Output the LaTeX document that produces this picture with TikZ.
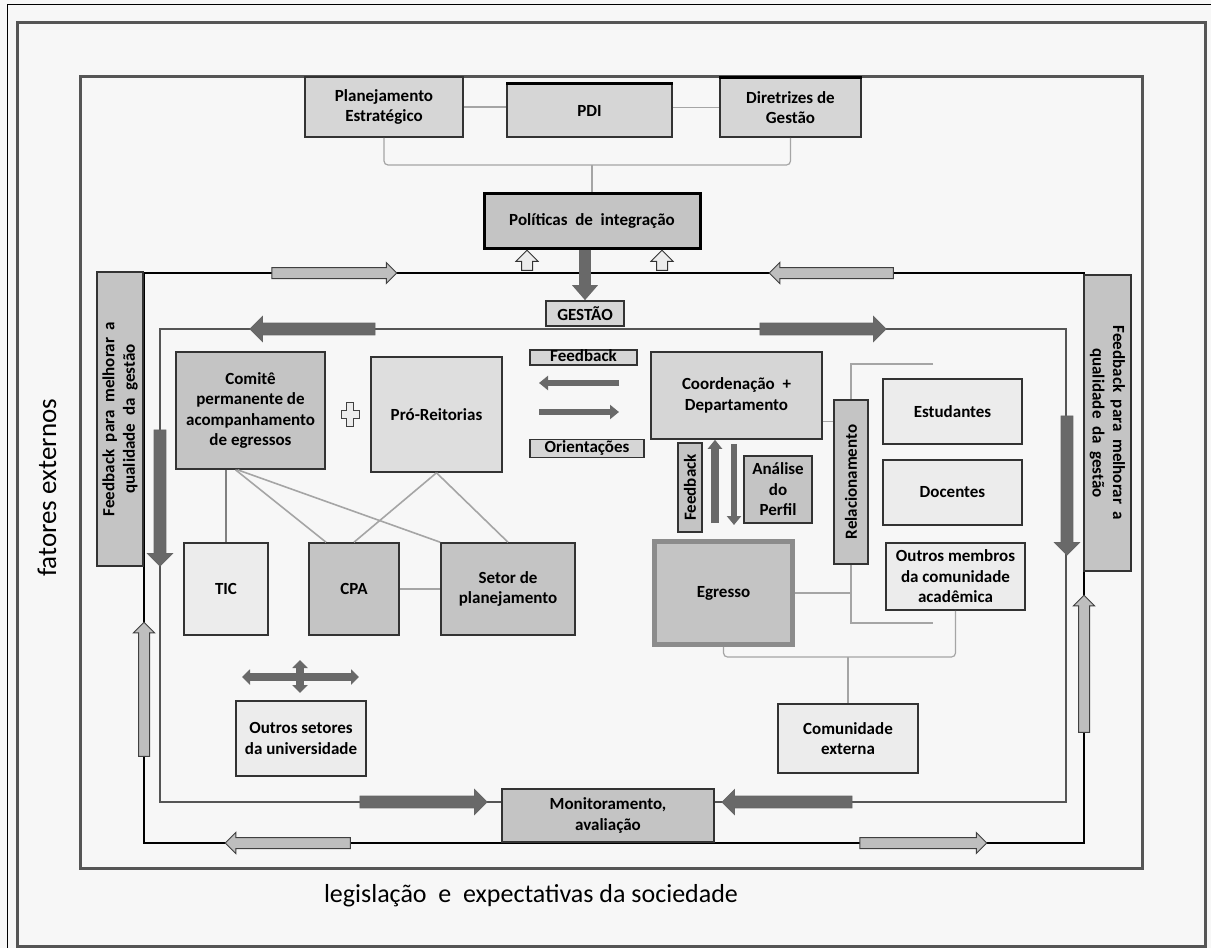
\documentclass[tikz,border=0pt]{standalone}
\usepackage{fontspec}
\setmainfont{Carlito}
\usetikzlibrary{arrows.meta,positioning,shapes.arrows}
\definecolor{bgpaper}{RGB}{247,247,247}
\definecolor{boxdark}{RGB}{196,196,196}
\definecolor{boxmid}{RGB}{214,214,214}
\definecolor{boxlight}{RGB}{236,236,236}
\definecolor{framegray}{RGB}{85,85,85}
\definecolor{linkgray}{RGB}{165,165,165}
\definecolor{arrdark}{RGB}{105,105,105}
\definecolor{arrlight}{RGB}{190,190,190}

\begin{document}
\begin{tikzpicture}[x=1pt, y=-1pt,
    box/.style={draw=black!80, line width=1.6pt, align=center, inner sep=2pt, font=\bfseries\fontsize{17}{20.5}\selectfont},
    dbox/.style={box, fill=boxdark},
    mbox/.style={box, fill=boxmid},
    lbox/.style={box, fill=boxlight},
    frame/.style={draw=framegray, line width=3pt},
    outerloop/.style={draw=black, line width=2.5pt},
    innerloop/.style={draw=framegray, line width=2pt},
    link/.style={draw=linkgray, line width=1.6pt},
    hollowarr/.style={single arrow, draw=black!75, fill=arrlight, line width=1pt, inner xsep=0pt, inner ysep=5pt, single arrow head extend=5pt, minimum height=#1},
    darkarr/.style={single arrow, draw=black!60, fill=arrdark, line width=0.8pt, inner xsep=0pt, inner ysep=5.5pt, single arrow head extend=6.5pt, minimum height=#1},
    smallarr/.style={single arrow, draw=black!80, fill=boxlight, line width=1pt, inner xsep=0pt, inner ysep=5pt, single arrow head extend=5.5pt, minimum height=20pt},
    gesarr/.style={-{Triangle[length=15pt,width=25pt]}, line width=12pt, draw=arrdark},
    midarr/.style={-{Triangle[length=9pt,width=14pt]}, line width=6.5pt, draw=arrdark},
    crossarr/.style={{Triangle[length=8pt,width=15pt]}-{Triangle[length=8pt,width=15pt]}, line width=8pt, draw=arrdark}
  ]
    \fill[bgpaper] (0,0) rectangle (1211,948);
    \useasboundingbox (0,0) rectangle (1211,948);
    \draw[black, line width=1pt] (7,948) -- (7,4) -- (1211,4);
    \draw[frame] (17,22) rectangle (1205,946);
    \draw[frame] (80,76) rectangle (1142,868);
    \draw[outerloop] (144,273) rectangle (1084,843);
    \draw[innerloop] (160,329) rectangle (1066,802);

    \node[rotate=90, font=\fontsize{27}{32}\selectfont] (fat) at (47,488) {fatores externos};
    \node[font=\fontsize{26}{31}\selectfont] (leg) at (531,896) {legislação~~e~~expectativas da sociedade};

    \node[mbox, minimum width=158pt, minimum height=60pt] (plan) at (384,107) {Planejamento\\Estratégico};
    \node[mbox, minimum width=165pt, minimum height=53pt] (pdi) at (589.5,110.5) {PDI};
    \node[mbox, minimum width=141pt, minimum height=59pt] (dir) at (790.5,107.5) {Diretrizes de\\Gestão};
    \draw[line width=3pt] (pdi.north west) -- (pdi.north east);
    \draw[line width=3pt] (dir.north west) -- (dir.north east);
    \node[dbox, draw=black, line width=3pt, minimum width=216pt, minimum height=55pt] (pol) at (592,220.5) {Políticas~~de~~integração};
    \node[mbox, minimum width=78pt, minimum height=25pt, inner sep=0pt] (gest) at (585,313.5) {GESTÃO};

    \node[mbox, line width=1.2pt, minimum width=107pt, inner ysep=1pt, text height=10pt, text depth=3pt] (fbl) at (583.5,357.5) {Feedback};
    \node[mbox, line width=1.2pt, minimum width=114pt, inner ysep=1pt, text height=12pt, text depth=4pt] (ori) at (587,448.5) {Orientações};

    \node[dbox, minimum width=149pt, minimum height=117pt] (comite) at (250.5,410.5) {Comitê\\permanente de\\acompanhamento\\de egressos};
    \draw[shift={(350,414)}, draw=black!75, fill=boxlight, line width=1pt] (-3.5,-12) -- (3.5,-12) -- (3.5,-4) -- (9,-4) -- (9,4) -- (3.5,4) -- (3.5,12) -- (-3.5,12) -- (-3.5,4) -- (-9,4) -- (-9,-4) -- (-3.5,-4) -- cycle;
    \node[mbox, fill=boxmid!80!white, minimum width=131pt, minimum height=115pt] (pro) at (436.5,414.5) {Pró-Reitorias};
    \node[lbox, minimum width=84pt, minimum height=92pt] (tic) at (226,589) {TIC};
    \node[dbox, minimum width=90pt, minimum height=92pt] (cpa) at (354,589) {CPA};
    \node[dbox, minimum width=134pt, minimum height=92pt] (setor) at (508,589) {Setor de\\planejamento};
    \node[lbox, minimum width=130pt, minimum height=75pt] (outset) at (301,738.5) {Outros setores\\da universidade};

    \node[mbox, minimum width=171pt, minimum height=87pt] (coord) at (736.5,395.5) {Coordenação~~+\\Departamento};
    \node[dbox, rotate=90, minimum width=89pt, minimum height=24pt, inner sep=0pt] (fbv) at (690,487.5) {Feedback};
    \node[dbox, minimum width=68pt, minimum height=67pt, inner sep=1pt] (ana) at (778,489.5) {Análise\\do\\Perfil};
    \node[dbox, draw=black!45, line width=5pt, minimum width=138pt, minimum height=103pt] (egr) at (723.5,593) {Egresso};
    \node[dbox, rotate=90, minimum width=164pt, minimum height=34pt, inner sep=0pt] (rel) at (851,482) {Relacionamento};
    \node[lbox, minimum width=139pt, minimum height=65pt] (est) at (952.5,411.5) {Estudantes};
    \node[lbox, minimum width=139pt, minimum height=65pt] (doc) at (952.5,492.5) {Docentes};
    \node[lbox, minimum width=139pt, minimum height=67pt, inner sep=1pt] (omem) at (955.5,576.5) {Outros membros\\da comunidade\\acadêmica};
    \node[lbox, minimum width=140pt, minimum height=69pt] (com) at (848,738.5) {Comunidade\\externa};
    \node[dbox, minimum width=212pt, minimum height=53pt] (mon) at (608,815.5) {Monitoramento,\\avaliação};

    \node[dbox, rotate=90, minimum width=294pt, minimum height=46pt, inner sep=0pt] (fbL) at (120,419) {Feedback~~para~~melhorar~~a\\qualidade~~da~~gestão};
    \node[dbox, rotate=-90, minimum width=296pt, minimum height=47pt, inner sep=0pt] (fbR) at (1107.5,423) {Feedback~~para~~melhorar~~a\\qualidade~~da~~gestão};

    \node[hollowarr=125pt] (ha1) at (331.5,273) {};
    \node[hollowarr=124pt, rotate=180] (ha2) at (834,273) {};
    \node[hollowarr=125pt, rotate=180] (ha3) at (290.5,843) {};
    \node[hollowarr=127pt] (ha4) at (920.5,843) {};
    \node[hollowarr=134pt, rotate=90] (ha5) at (144,692) {};
    \node[hollowarr=137pt, rotate=90] (ha6) at (1084,666.5) {};
    \node[smallarr, rotate=90] (up1) at (527,263) {};
    \node[smallarr, rotate=90] (up2) at (662,263) {};

    \node[darkarr=125pt, rotate=180] (da1) at (315.5,329) {};
    \node[darkarr=126pt] (da2) at (820,329) {};
    \node[darkarr=136pt, rotate=-90] (da3) at (160,495) {};
    \node[darkarr=139pt, rotate=-90] (da4) at (1067,482.5) {};
    \node[darkarr=127pt] (da5) at (420.5,802) {};
    \node[darkarr=130pt, rotate=180] (da6) at (790,802) {};

    \draw[link] (plan.east) -- (plan.east -| pdi.west);
    \draw[link] (dir.west) -- (dir.west -| pdi.east);
    \coordinate (brT) at (592,165);
    \draw[link, line width=1.2pt, rounded corners=4pt] (plan.south) |- (brT) -| (dir.south);
    \draw[link, line width=1.2pt] (brT) -- (pol.north);
    \draw[gesarr] (gest.north |- pol.south) -- (gest.north);

    \coordinate (fbA) at (619,383);
    \coordinate (fbB) at (539,383);
    \coordinate (orA) at (539,412);
    \coordinate (orB) at (619,412);
    \draw[midarr] (fbA) -- (fbB);
    \draw[midarr] (orA) -- (orB);

    \draw[link, draw=black!50] (comite.south -| tic.north) -- (tic.north);
    \draw[link] ([xshift=-15pt]comite.south) -- ([xshift=-28pt]cpa.north);
    \draw[link] ([xshift=-13pt]comite.south) -- (setor.north west);
    \draw[link] (pro.south) -- (cpa.north);
    \draw[link] (pro.south) -- (setor.north);
    \draw[link] (cpa.east) -- (setor.west);

    \coordinate (xc) at (300,677);
    \draw[crossarr] ([xshift=-58pt]xc) -- ([xshift=59pt]xc);
    \draw[crossarr] ([yshift=17pt]xc) -- ([yshift=-16pt]xc);

    \draw[midarr, line width=8pt, shorten <=16pt] ([xshift=-8.5pt]egr.north) -- ([xshift=-8.5pt]egr.north |- coord.south);
    \draw[midarr, shorten <=4pt, shorten >=14pt] ([xshift=10.5pt]egr.north |- coord.south) -- ([xshift=10.5pt]egr.north);

    \coordinate (relT) at (933,364);
    \coordinate (relB) at (933,623);
    \draw[link] (relT) -| (rel.east);
    \draw[link] (rel.west) |- (relB);
    \draw[link] ([yshift=-26pt]coord.east) -- ([yshift=-26pt]coord.east -| rel.north);
    \draw[link] (egr.east) -- (egr.east -| rel.west);

    \coordinate (bbT) at (848,657);
    \draw[link, line width=1.2pt, rounded corners=4pt] (egr.south) |- (bbT) -| (omem.south);
    \draw[link, line width=1.2pt] (bbT) -- (com.north);
  \end{tikzpicture}
\end{document}
